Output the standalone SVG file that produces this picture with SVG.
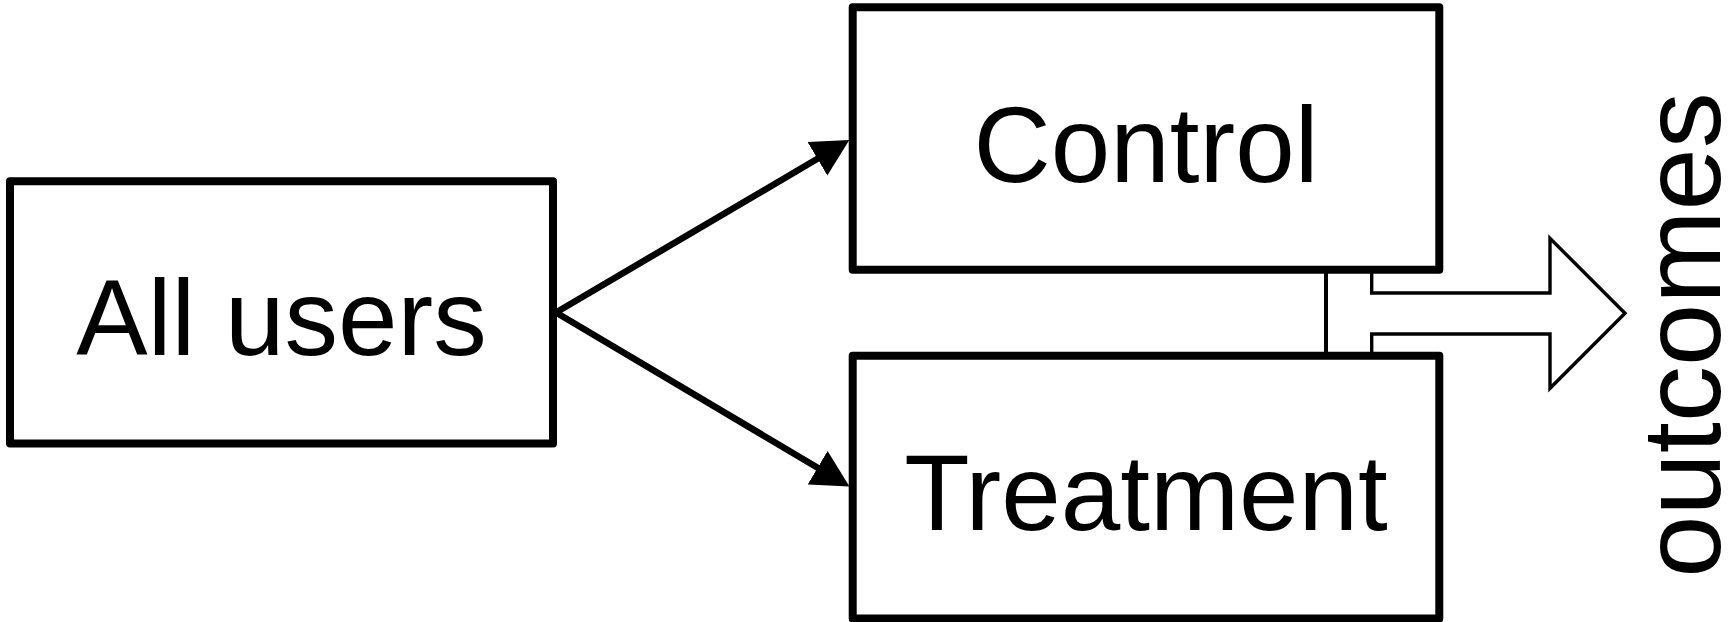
<svg xmlns="http://www.w3.org/2000/svg" width="1729" height="622" viewBox="0 0 1729 622">
  <style>
    .box { fill: #ffffff; stroke: #000000; stroke-width: 8; stroke-linejoin: round; }
    .label { font-family: "Liberation Sans", Arial, sans-serif; font-size: 107px; fill: #000000; text-anchor: middle; }
    .side { font-size: 112px; }
    .edge { fill: none; stroke: #000000; stroke-width: 6.5; stroke-linecap: butt; }
    .thin { fill: none; stroke: #000000; stroke-width: 3.4; stroke-linejoin: miter; }
    .bar { fill: none; stroke: #000000; stroke-width: 4; }
  </style>
  <defs>
    <marker id="head" markerUnits="userSpaceOnUse" markerWidth="38" markerHeight="40" viewBox="0 -20 38 40" refX="1" refY="0" orient="auto">
      <path d="M0,-19.5 L37,0 L0,19.5 z" fill="#000000"/>
    </marker>
  </defs>
  <rect width="1729" height="622" fill="#ffffff"/>

  <g id="all-users">
    <rect class="box" x="10" y="181.3" width="543" height="262.2"/>
    <text class="label" x="281.5" y="355">All users</text>
  </g>

  <g id="control">
    <rect class="box" x="852.7" y="7.3" width="586.6" height="262.4"/>
    <text class="label" x="1146" y="182">Control</text>
  </g>

  <g id="treatment">
    <rect class="box" x="852.7" y="355.7" width="586.6" height="262.8"/>
    <text class="label" x="1146" y="529.5">Treatment</text>
  </g>

  <g id="outcomes">
    <text class="label side" transform="translate(1720,335) rotate(-90)" x="0" y="0">outcomes</text>
  </g>

  <g id="connectors">
    <path class="edge" d="M556,312.5 L818.3,158.3" marker-end="url(#head)"/>
    <path class="edge" d="M556,312.5 L818.5,468.2" marker-end="url(#head)"/>
    <line class="bar" x1="1326" y1="273" x2="1326" y2="352"/>
    <path class="thin" d="M1371.7,272 L1371.7,293 L1550,293 L1550,238.3 L1625,313.3 L1550,388.3 L1550,334 L1371.7,334 L1371.7,353"/>
  </g>
</svg>
